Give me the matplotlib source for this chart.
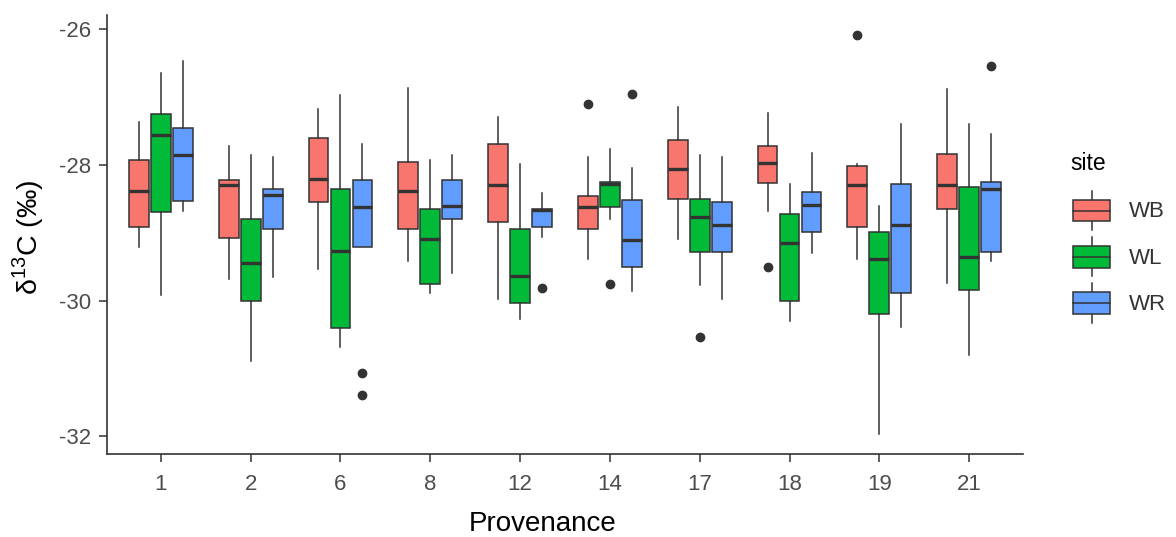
import matplotlib
matplotlib.use('Agg')
import matplotlib.pyplot as plt  # flake8: noqa
from matplotlib.legend_handler import HandlerBase
from matplotlib.patches import Patch, Rectangle
from matplotlib.lines import Line2D

plt.rcParams['font.family'] = ['Liberation Sans', 'DejaVu Sans']
plt.rcParams['mathtext.fontset'] = 'custom'
plt.rcParams['mathtext.rm'] = 'Liberation Sans'

provenance = ['1', '2', '6', '8', '12', '14', '17', '18', '19', '21']
sites = ['WB', 'WL', 'WR']

wb_whishi = [-27.36, -27.72, -27.18, -26.86, -27.30, -27.89, -27.15, -27.24, -27.99, -26.88]
wb_q3 = [-27.93, -28.22, -27.60, -27.96, -27.69, -28.46, -27.63, -27.72, -28.01, -27.84]
wb_med = [-28.38, -28.29, -28.21, -28.38, -28.30, -28.62, -28.06, -27.97, -28.30, -28.30]
wb_q1 = [-28.91, -29.08, -28.55, -28.94, -28.84, -28.94, -28.50, -28.26, -28.91, -28.65]
wb_whislo = [-29.21, -29.68, -29.53, -29.41, -29.98, -29.39, -29.09, -28.68, -29.39, -29.74]
wb_out = [[], [], [], [], [], [-27.10], [], [-29.50], [-26.09], []]

wl_whishi = [-26.65, -27.86, -26.97, -27.92, -27.98, -27.77, -27.86, -28.28, -28.60, -27.39]
wl_q3 = [-27.25, -28.79, -28.35, -28.65, -28.94, -28.25, -28.50, -28.73, -28.99, -28.32]
wl_med = [-27.56, -29.45, -29.27, -29.09, -29.63, -28.28, -28.77, -29.15, -29.39, -29.36]
wl_q1 = [-28.69, -30.00, -30.41, -29.76, -30.03, -28.62, -29.29, -30.00, -30.20, -29.85]
wl_whislo = [-29.92, -30.89, -30.68, -29.88, -30.27, -28.79, -29.77, -30.30, -31.96, -30.80]
wl_out = [[], [], [], [], [], [-29.76], [-30.53], [], [], []]

wr_whishi = [-26.47, -27.89, -27.69, -27.86, -28.42, -28.04, -27.89, -27.83, -27.39, -27.54]
wr_q3 = [-27.45, -28.35, -28.22, -28.22, -28.65, -28.52, -28.55, -28.40, -28.28, -28.25]
wr_med = [-27.85, -28.44, -28.62, -28.60, -28.67, -29.11, -28.89, -28.59, -28.89, -28.36]
wr_q1 = [-28.53, -28.94, -29.21, -28.79, -28.91, -29.50, -29.29, -28.99, -29.88, -29.29]
wr_whislo = [-28.68, -29.65, -29.21, -29.59, -29.06, -29.86, -29.97, -29.30, -30.39, -29.41]
wr_out = [[], [], [-31.06, -31.39], [], [-29.82], [-26.95], [], [], [], [-26.54]]

site_colors = ['#F8766D', '#00BA38', '#619CFF']
site_data = [
    (wb_whislo, wb_q1, wb_med, wb_q3, wb_whishi, wb_out),
    (wl_whislo, wl_q1, wl_med, wl_q3, wl_whishi, wl_out),
    (wr_whislo, wr_q1, wr_med, wr_q3, wr_whishi, wr_out),
]

EDGE = '#333333'
LW = 1.1


class BoxKey(HandlerBase):
    # ggplot style key: vertical whisker, box, median line
    def create_artists(self, legend, orig_handle, xdescent, ydescent,
                       width, height, fontsize, trans):
        x0, y0 = -xdescent, -ydescent
        cx = x0 + width / 2
        whisker = Line2D([cx, cx], [y0, y0 + height],
                         color=EDGE, lw=LW, transform=trans)
        box = Rectangle((x0, y0 + 0.22 * height), width, 0.56 * height,
                        facecolor=orig_handle.get_facecolor(),
                        edgecolor=EDGE, lw=LW, transform=trans)
        med = Line2D([x0, x0 + width], [y0 + height / 2] * 2,
                     color=EDGE, lw=LW, transform=trans)
        return [whisker, box, med]


fig = plt.figure(figsize=(11.76, 5.37), dpi=100)
ax = fig.add_axes([107 / 1176, 1 - 454 / 537, 916 / 1176, 439 / 537])

offsets = [-0.245, 0.0, 0.245]
for k, (lo, q1, med, q3, hi, out) in enumerate(site_data):
    stats = []
    for i in range(len(provenance)):
        stats.append(dict(whislo=lo[i], q1=q1[i], med=med[i], q3=q3[i],
                          whishi=hi[i], fliers=out[i]))
    ax.bxp(stats, positions=[i + offsets[k] for i in range(len(provenance))],
           widths=0.222, patch_artist=True, showcaps=False,
           boxprops=dict(facecolor=site_colors[k], edgecolor=EDGE, linewidth=LW),
           medianprops=dict(color=EDGE, linewidth=2.4, solid_capstyle='butt'),
           whiskerprops=dict(color=EDGE, linewidth=LW),
           flierprops=dict(marker='o', markerfacecolor=EDGE, markeredgecolor=EDGE,
                           markersize=6))

ax.set_xlim(-0.6, 9.6)
ax.set_ylim(-32.26, -25.79)
ax.set_xticks(range(len(provenance)))
ax.set_xticklabels(provenance)
ax.set_yticks([-32, -30, -28, -26])
ax.set_yticklabels(['-32', '-30', '-28', '-26'])
ax.tick_params(axis='both', labelsize=16, labelcolor='#4D4D4D', color=EDGE,
               length=6, width=1.1)
ax.tick_params(axis='x', pad=8.5)
ax.tick_params(axis='y', pad=5.5)

for side in ['top', 'right']:
    ax.spines[side].set_visible(False)
for side in ['left', 'bottom']:
    ax.spines[side].set_color(EDGE)
    ax.spines[side].set_linewidth(1.2)

ax.set_xlabel('Provenance', fontsize=20, va='center')
ax.xaxis.set_label_coords(0.476, -0.16)
ax.set_ylabel('δ$^{13}$C (‰)', fontsize=20.5, va='center')
ax.yaxis.set_label_coords(-0.086, 0.494)

# legend title drawn on its own so the gap to the keys matches ggplot
fig.text(1070 / 1176, 1 - 163 / 537, 'site', fontsize=16.5, va='center')
handles = [Patch(facecolor=c) for c in site_colors]
leg = fig.legend(handles, sites, loc='upper left',
                 bbox_to_anchor=(1073 / 1176, 1 - 191 / 537),
                 frameon=False, fontsize=16,
                 handler_map={Patch: BoxKey()}, handlelength=1.67,
                 handleheight=2.33, labelspacing=0.32, handletextpad=0.86,
                 borderpad=0, borderaxespad=0)
for t in leg.get_texts():
    t.set_color('#333333')

fig.savefig('out.png', dpi=100)
